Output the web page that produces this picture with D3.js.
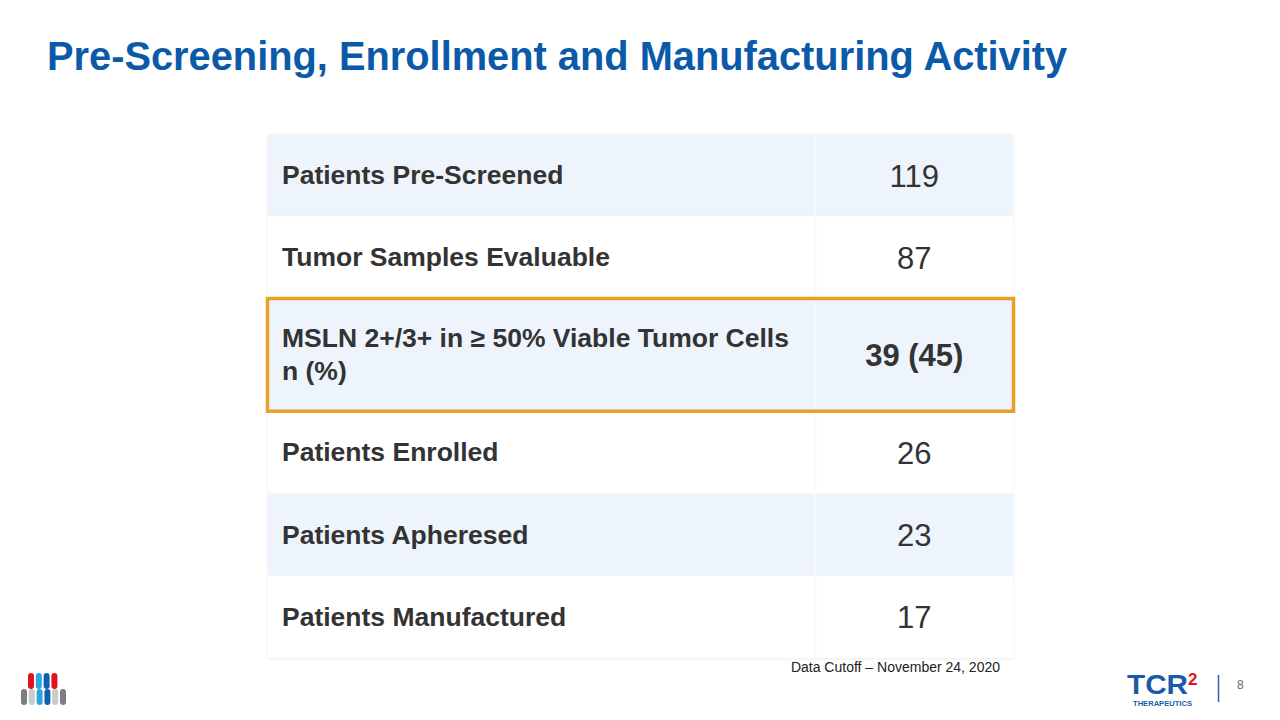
<!DOCTYPE html>
<html><head><meta charset="utf-8">
<script src="https://cdn.jsdelivr.net/npm/d3@7"></script>
<style>body{margin:0;background:#fff;}svg{display:block;font-family:"Liberation Sans",Arial,sans-serif;}</style>
</head><body><svg id="c" width="1280" height="720"></svg>
<script>
const labels = [["Patients Pre-Screened"],["Tumor Samples Evaluable"],["MSLN 2+/3+ in \u2265 50% Viable Tumor Cells","n (%)"],["Patients Enrolled"],["Patients Apheresed"],["Patients Manufactured"]];
const values = ["119","87","39 (45)","26","23","17"];
const highlighted = [false,false,true,false,false,false];
const rowUnits = [1,1,1.37,1,1,1];

const svg = d3.select("#c");
const defs = svg.append("defs");
const f = defs.append("filter").attr("id","sh").attr("x","-5%").attr("y","-20%").attr("width","110%").attr("height","140%");
f.append("feDropShadow").attr("dx",0).attr("dy",1).attr("stdDeviation",1.5).attr("flood-color","#000").attr("flood-opacity",0.08);

svg.append("text").attr("x",47).attr("y",70).attr("fill","#0B5AAA").attr("font-weight","bold").attr("font-size",39.8).text("Pre-Screening, Enrollment and Manufacturing Activity");

const cum = [0]; rowUnits.forEach(u=>cum.push(cum[cum.length-1]+u));
const y = d3.scaleLinear().domain([0,cum[cum.length-1]]).range([134,658]);
const x = d3.scaleLinear().domain([0,1]).range([268,1013]);
const split = 0.735;

const rows = svg.append("g").selectAll("g").data(values).join("g");
rows.append("rect").attr("x",x(0)).attr("width",x(1)-x(0))
  .attr("y",(d,i)=>y(cum[i])).attr("height",(d,i)=>y(cum[i+1])-y(cum[i]))
  .attr("fill",(d,i)=> (i%2===0)?"#EEF4FB":"#FFFFFF").attr("filter","url(#sh)");
rows.append("line").attr("x1",x(split)).attr("x2",x(split))
  .attr("y1",(d,i)=>y(cum[i])).attr("y2",(d,i)=>y(cum[i+1])).attr("stroke","#F6F8FA").attr("stroke-width",1.5);
rows.each(function(d,i){
  const g = d3.select(this);
  const mid = (y(cum[i])+y(cum[i+1]))/2;
  const lines = labels[i];
  const lh = 33;
  lines.forEach((t,k)=>{
    g.append("text").attr("x",282).attr("y",mid + (k-(lines.length-1)/2)*lh + 9)
      .attr("font-weight","bold").attr("font-size",26.5).attr("fill","#333333").text(t);
  });
  g.append("text").attr("x",x((split+1)/2)).attr("y",mid+11.5).attr("text-anchor","middle")
    .attr("font-size",31).attr("font-weight",highlighted[i]?"bold":"normal").attr("fill","#333333").text(d);
});
values.forEach((d,i)=>{ if(highlighted[i]) svg.append("rect").attr("x",x(0)-0.5).attr("width",x(1)-x(0)+1)
  .attr("y",y(cum[i])).attr("height",y(cum[i+1])-y(cum[i])).attr("fill","none").attr("stroke","#E9A02B").attr("stroke-width",3.5); });

svg.append("text").attr("x",1000).attr("y",672).attr("text-anchor","end").attr("font-size",14).attr("fill","#222").text("Data Cutoff \u2013 November 24, 2020");

const pillTop = [["#E3101E",0],["#29A8E0",1],["#1060B0",2],["#E3101E",3]];
const pillBot = [["#7B7D80",0],["#C8CACC",1],["#29A8E0",2],["#1060B0",3],["#C8CACC",4],["#7B7D80",5]];
const lg = svg.append("g");
pillTop.forEach(([c,k])=>lg.append("rect").attr("x",28+k*7.8).attr("y",673).attr("width",6).attr("height",16).attr("rx",3).attr("fill",c));
pillBot.forEach(([c,k])=>lg.append("rect").attr("x",21+k*7.8).attr("y",689).attr("width",6).attr("height",16).attr("rx",3).attr("fill",c));

svg.append("text").attr("x",1127).attr("y",694).attr("font-size",28).attr("font-weight","bold").attr("fill","#1A5AAA")
  .attr("textLength",61).attr("lengthAdjust","spacingAndGlyphs").text("TCR");
svg.append("text").attr("x",1188).attr("y",685).attr("font-size",17).attr("font-weight","bold").attr("fill","#E3101E").text("2");
svg.append("text").attr("x",1133).attr("y",706).attr("font-size",6.6).attr("font-weight","bold").attr("fill","#1A5AAA")
  .attr("textLength",59).attr("lengthAdjust","spacingAndGlyphs").text("THERAPEUTICS");
svg.append("line").attr("x1",1218.5).attr("x2",1218.5).attr("y1",675).attr("y2",702).attr("stroke","#3B5BA8").attr("stroke-width",1.5);
svg.append("text").attr("x",1237).attr("y",689).attr("font-size",12).attr("fill","#666").text("8");
</script></body></html>
